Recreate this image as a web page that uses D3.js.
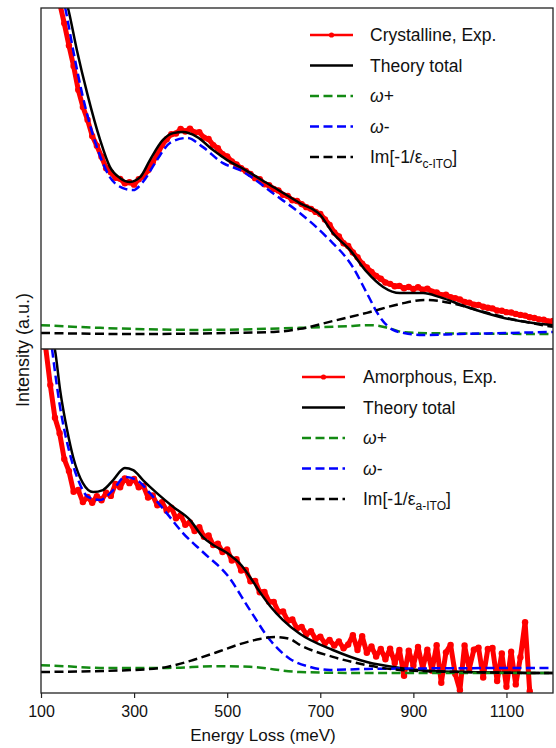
<!DOCTYPE html>
<html>
<head>
<meta charset="utf-8">
<script src="https://cdn.jsdelivr.net/npm/d3@7"></script>
<style>
  body { margin: 0; background: #fff; }
  text { font-family: "Liberation Sans", Arial, sans-serif; fill: #111; }
</style>
</head>
<body>
<svg width="556" height="748"></svg>
<script>
var energyTicks = [100, 300, 500, 700, 900, 1100];

// measured spectra, sampled every 10 meV (a.u.)
var crystEnergy = d3.range(130, 1201, 10);
var crystExp = [
  106, 101.5, 95.5, 89.0, 83.0, 76.0, 71.0, 67.2, 62.5, 59.6,
  56.4, 53.0, 51.8, 50.2, 49.9, 48.6, 48.9, 48.2, 49.8, 50.6,
  52.4, 54.8, 57.0, 59.8, 61.5, 63.0, 63.2, 64.5, 63.8, 64.6,
  63.5, 63.6, 62.0, 61.6, 59.8, 58.9, 57.1, 56.5, 55.0, 54.1,
  53.0, 52.2, 51.3, 50.1, 49.8, 48.3, 48.0, 46.9, 46.5, 45.2,
  44.9, 43.6, 43.4, 42.5, 41.6, 41.1, 40.2, 39.6, 38.0, 36.4,
  34.2, 33.0, 31.0, 30.2, 28.3, 26.9, 25.0, 23.9, 22.6, 21.4,
  20.6, 19.5, 19.1, 18.4, 18.5, 17.8, 18.2, 17.6, 18.1, 17.4,
  17.7, 16.8, 16.6, 15.8, 15.9, 15.2, 14.9, 14.5, 13.8, 13.6,
  13.0, 12.9, 12.4, 12.1, 11.9, 11.3, 11.2, 10.8, 10.7, 10.3,
  10.0, 9.8, 9.3, 9.1, 8.7, 8.6, 8.1, 8.2
];
var amorEnergy = d3.range(100, 1151, 10);
var amorExp = [
  112, 100.5, 89.5, 80.0, 75.5, 68.0, 64.5, 58.5, 59.0, 55.5,
  57.0, 55.3, 57.2, 56.0, 58.2, 57.3, 60.8, 59.8, 62.4, 61.0,
  62.2, 59.8, 60.2, 56.8, 57.4, 54.6, 55.5, 53.0, 53.9, 50.8,
  51.7, 48.9, 49.6, 47.1, 48.2, 45.4, 45.8, 43.0, 43.4, 41.0,
  41.7, 38.5, 38.9, 35.6, 35.8, 32.5, 32.6, 29.3, 29.4, 26.5,
  26.5, 23.6, 23.7, 21.0, 21.4, 18.8, 19.2, 17.1, 18.0, 15.7,
  16.4, 14.5, 15.4, 13.8, 15.0, 13.0, 14.1, 16.8, 12.5, 16.5,
  11.7, 13.5, 10.6, 12.8, 9.8, 12.9, 8.7, 12.5, 5.0, 12.3,
  8.0, 13.4, 7.2, 12.6, 6.5, 13.9, 3.0, 11.8, 14.0, 5.5,
  0.8, 13.8, 7.0, 12.6, 13.2, 4.5, 12.8, 13.1, 3.5, 11.5,
  1.8, 12.0, 2.5, 10.4, 20.6, 0.5
];

// theory curves [meV, a.u.]
var crystTotal = [[150,104],[158,100],[177,87.7],[199,75.1],[227,61.3],[248,53.4],[270,50.1],[291,49.0],
  [313,50.4],[334,55.4],[362,61.3],[384,63.3],[405,63.6],[435,62.2],[469,58.4],[500,55.4],[527,53.4],
  [592,48.1],[656,42.8],[700,39.3],[727,34.0],[764,29.0],[800,22.6],[835,18.2],[871,16.4],[921,16.4],
  [957,15.2],[1015,12.3],[1086,9.4],[1157,7.6],[1200,7.0]];
var crystPlus = [[100,7.0],[227,6.2],[442,5.6],[656,6.2],[760,6.7],[800,7.0],[820,6.9],[850,6.0],
  [880,4.9],[950,4.6],[1200,4.4]];
var crystMinus = [[145,104],[152,100],[169,87.7],[190,73.9],[220,59.2],[248,50.4],[276,47.2],[298,46.6],
  [319,49.0],[349,55.4],[377,60.4],[414,61.9],[448,59.2],[491,54.5],[527,52.5],[549,50.7],[600,45.5],
  [656,39.9],[714,32.8],[770,24.0],[800,16.4],[828,9.4],[856,5.6],[880,4.7],[920,4.1],[1000,4.4],
  [1100,4.7],[1200,5.0]];
var crystIm = [[100,4.7],[300,4.4],[500,4.7],[600,5.0],[656,5.9],[727,8.2],[800,10.6],[871,13.2],
  [925,14.4],[980,13.5],[1050,10.9],[1120,8.5],[1200,6.5]];

var amorTotal = [[125,102.6],[130,99.7],[141,88.1],[156,76.5],[169,68.6],[190,61.0],[212,58.4],[233,59.0],
  [255,61.9],[280,65.4],[298,64.8],[319,61.9],[349,58.1],[384,54.1],[420,50.3],[448,45.3],[470,43.0],
  [500,40.7],[530,37.2],[549,33.7],[570,29.4],[592,25.3],[620,21.2],[656,17.2],[727,12.5],[800,9.0],
  [871,7.3],[942,6.4],[1015,6.1],[1200,5.8]];
var amorPlus = [[100,8.1],[150,7.8],[227,7.3],[371,7.3],[478,7.8],[549,7.6],[656,6.1],[800,5.8],[1200,5.8]];
var amorMinus = [[120,104],[124,99.7],[141,83.1],[160,70.6],[180,61.9],[201,57.0],[227,56.1],[255,59.0],
  [280,62.8],[306,61.9],[334,58.1],[370,52.3],[405,46.5],[450,40.7],[500,34.3],[549,24.1],[592,15.4],
  [635,9.9],[678,7.6],[721,6.7],[800,7.0],[1200,7.3]];
var amorIm = [[100,6.1],[300,6.7],[371,7.6],[427,9.6],[485,12.2],[527,14.2],[570,15.7],[602,16.3],
  [635,15.7],[656,14.0],[727,10.5],[800,8.1],[871,6.7],[1000,6.1],[1200,5.8]];

var svg = d3.select("svg"),
    plotLeft = 41, plotRight = 553, plotTop = 8, plotBottom = 693, split = 349;

var x = d3.scaleLinear().domain([100, 1200]).range([plotLeft, plotRight]);

var panels = [
  {top: plotTop, height: split - plotTop, energy: crystEnergy, exp: crystExp, total: crystTotal, plus: crystPlus,
   minus: crystMinus, im: crystIm, name: "Crystalline, Exp.", sub: "c-ITO", lx: 310, lt: 370, ly: 35},
  {top: split, height: plotBottom - split, energy: amorEnergy, exp: amorExp, total: amorTotal, plus: amorPlus,
   minus: amorMinus, im: amorIm, name: "Amorphous, Exp.", sub: "a-ITO", lx: 302, lt: 363, ly: 377}
];

var dash = "9,4.5";

panels.forEach(function(p, i) {
  var y = d3.scaleLinear().domain([0, 100]).range([p.top + p.height, p.top]);

  svg.append("clipPath").attr("id", "clip" + i)
    .append("rect")
      .attr("x", plotLeft).attr("y", p.top)
      .attr("width", plotRight - plotLeft).attr("height", p.height);

  var g = svg.append("g").attr("clip-path", "url(#clip" + i + ")");

  var pts = p.energy.map(function(e, j) { return [e, p.exp[j]]; });

  g.append("path")
    .datum(pts)
    .attr("fill", "none")
    .attr("stroke", "#ff0000")
    .attr("stroke-width", 5)
    .attr("stroke-linejoin", "round")
    .attr("d", d3.line().x(function(d) { return x(d[0]); }).y(function(d) { return y(d[1]); }));

  g.selectAll("circle")
    .data(pts)
    .enter().append("circle")
      .attr("cx", function(d) { return x(d[0]); })
      .attr("cy", function(d) { return y(d[1]); })
      .attr("r", 3.2)
      .attr("fill", "#ff0000");

  var theory = d3.line()
    .curve(d3.curveMonotoneX)
    .x(function(d) { return x(d[0]); })
    .y(function(d) { return y(d[1]); });

  var series = [
    {data: p.total, color: "#000", dash: null},
    {data: p.plus, color: "#138a13", dash: dash},
    {data: p.minus, color: "#0000ff", dash: dash},
    {data: p.im, color: "#000", dash: dash}
  ];

  series.forEach(function(s) {
    g.append("path")
      .datum(s.data)
      .attr("fill", "none")
      .attr("stroke", s.color)
      .attr("stroke-width", 2.5)
      .attr("stroke-dasharray", s.dash)
      .attr("d", theory);
  });

  // legend
  var leg = svg.append("g").attr("font-size", 17.5);
  var rows = [
    {color: "#ff0000", dash: null, marker: true},
    {color: "#000", dash: null},
    {color: "#138a13", dash: dash},
    {color: "#0000ff", dash: dash},
    {color: "#000", dash: dash}
  ];
  rows.forEach(function(r, k) {
    var ry = p.ly + k * 30.5;
    leg.append("line")
      .attr("x1", p.lx).attr("x2", p.lx + 43)
      .attr("y1", ry).attr("y2", ry)
      .attr("stroke", r.color)
      .attr("stroke-width", 2.5)
      .attr("stroke-dasharray", r.dash);
    if (r.marker)
      leg.append("circle").attr("cx", p.lx + 21.5).attr("cy", ry).attr("r", 2.6).attr("fill", r.color);
  });

  leg.append("text").attr("x", p.lt).attr("y", p.ly).attr("dy", "0.36em").text(p.name);
  leg.append("text").attr("x", p.lt).attr("y", p.ly + 30.5).attr("dy", "0.36em").text("Theory total");

  var t2 = leg.append("text").attr("x", p.lt).attr("y", p.ly + 61).attr("dy", "0.36em");
  t2.append("tspan").attr("font-style", "italic").text("ω");
  t2.append("tspan").text("+");

  var t3 = leg.append("text").attr("x", p.lt).attr("y", p.ly + 91.5).attr("dy", "0.36em");
  t3.append("tspan").attr("font-style", "italic").text("ω");
  t3.append("tspan").text("-");

  var t4 = leg.append("text").attr("x", p.lt).attr("y", p.ly + 122).attr("dy", "0.36em");
  t4.append("tspan").text("Im[-1/ε");
  t4.append("tspan").attr("font-size", 12).attr("dy", 5).text(p.sub);
  t4.append("tspan").attr("dy", -5).text("]");
});

// frame
svg.append("rect")
  .attr("x", plotLeft).attr("y", plotTop)
  .attr("width", plotRight - plotLeft).attr("height", plotBottom - plotTop)
  .attr("fill", "none")
  .attr("stroke", "#222")
  .attr("stroke-width", 1.3);

svg.append("line")
  .attr("x1", plotLeft).attr("x2", plotRight)
  .attr("y1", split).attr("y2", split)
  .attr("stroke", "#222")
  .attr("stroke-width", 1.3);

var xAxis = svg.append("g")
  .attr("transform", "translate(0," + plotBottom + ")")
  .call(d3.axisBottom(x).tickValues(energyTicks).tickFormat(d3.format("d")).tickSize(5).tickPadding(8));
xAxis.select(".domain").remove();
xAxis.selectAll("line").attr("stroke", "#222").attr("stroke-width", 1.2);
xAxis.selectAll("text")
  .attr("font-size", 16)
  .attr("font-family", "Liberation Sans, Arial, sans-serif")
  .attr("fill", "#111");

svg.append("text")
  .attr("x", 263)
  .attr("y", 741)
  .attr("text-anchor", "middle")
  .attr("font-size", 17)
  .text("Energy Loss (meV)");

svg.append("text")
  .attr("transform", "translate(23,350) rotate(-90)")
  .attr("text-anchor", "middle")
  .attr("dy", "0.35em")
  .attr("font-size", 18)
  .text("Intensity (a.u.)");
</script>
</body>
</html>
